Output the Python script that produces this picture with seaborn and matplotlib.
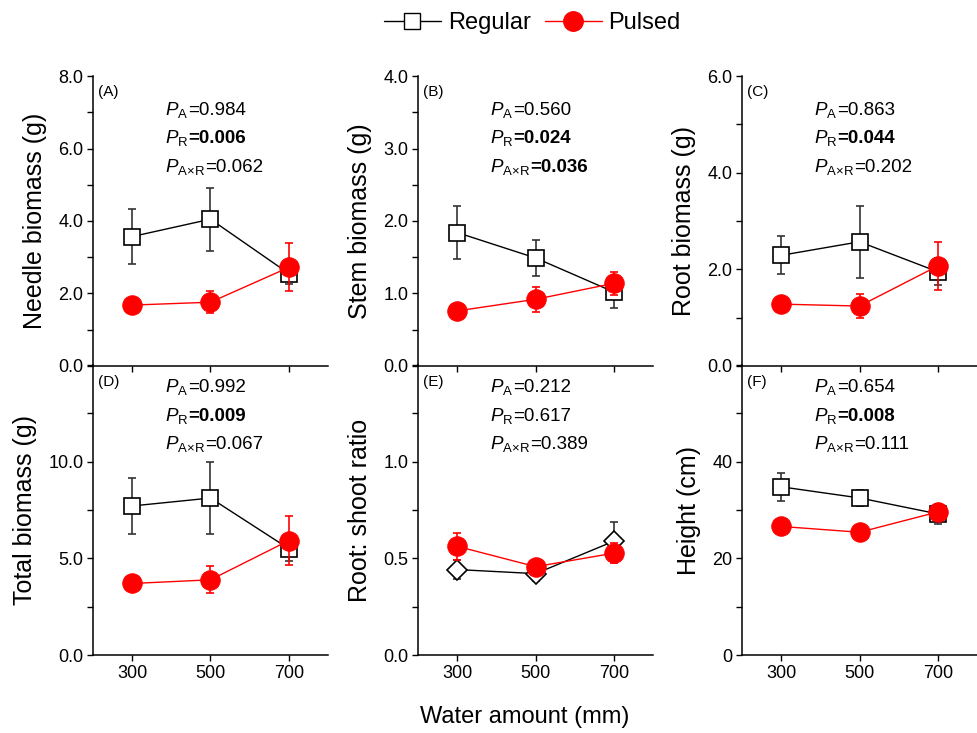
import matplotlib
matplotlib.use("Agg")
import matplotlib.pyplot as plt
from matplotlib.lines import Line2D
from matplotlib.ticker import MultipleLocator, FormatStrFormatter
from matplotlib.offsetbox import TextArea, HPacker, AnnotationBbox
import seaborn as sns

# Data (mean +/- SE)
water = [300, 500, 700]

needle_reg = [3.57, 4.05, 2.55]
needle_reg_se = [0.77, 0.87, 0.30]
needle_pul = [1.68, 1.76, 2.72]
needle_pul_se = [0.05, 0.31, 0.66]

stem_reg = [1.84, 1.49, 1.02]
stem_reg_se = [0.37, 0.25, 0.22]
stem_pul = [0.76, 0.92, 1.14]
stem_pul_se = [0.03, 0.17, 0.16]

root_reg = [2.29, 2.57, 1.95]
root_reg_se = [0.39, 0.74, 0.28]
root_pul = [1.28, 1.24, 2.07]
root_pul_se = [0.05, 0.25, 0.49]

total_reg = [7.71, 8.12, 5.50]
total_reg_se = [1.47, 1.85, 0.63]
total_pul = [3.70, 3.89, 5.92]
total_pul_se = [0.10, 0.70, 1.28]

ratio_reg = [0.442, 0.421, 0.589]
ratio_reg_se = [0.05, 0.04, 0.10]
ratio_pul = [0.562, 0.457, 0.527]
ratio_pul_se = [0.07, 0.02, 0.05]

height_reg = [34.8, 32.5, 29.2]
height_reg_se = [2.9, 1.7, 2.0]
height_pul = [26.6, 25.4, 29.6]
height_pul_se = [0.5, 0.5, 1.7]

ylabels = ["Needle biomass (g)", "Stem biomass (g)", "Root biomass (g)",
           "Total biomass (g)", "Root: shoot ratio", "Height (cm)"]
panel_tags = ["(A)", "(B)", "(C)", "(D)", "(E)", "(F)"]
# P values for A, R and AxR; 1 = printed in bold (significant)
pvals = [("0.984", "0.006", "0.062"), ("0.560", "0.024", "0.036"),
         ("0.863", "0.044", "0.202"), ("0.992", "0.009", "0.067"),
         ("0.212", "0.617", "0.389"), ("0.654", "0.008", "0.111")]
signif = [(0, 1, 0), (0, 1, 1), (0, 1, 0), (0, 1, 0), (0, 0, 0), (0, 1, 0)]

sns.set_style("ticks")
plt.rcParams['font.family'] = ['Liberation Sans', 'DejaVu Sans']
plt.rcParams['mathtext.fontset'] = 'custom'
plt.rcParams['mathtext.rm'] = 'Liberation Sans'
plt.rcParams['mathtext.it'] = 'Liberation Sans:italic'
plt.rcParams['mathtext.bf'] = 'Liberation Sans:bold'
plt.rcParams['text.color'] = 'black'
plt.rcParams['axes.labelcolor'] = 'black'

fig = plt.figure(figsize=(9.77, 7.33), dpi=100)

lefts = [0.0952, 0.428, 0.7595]
bottoms = [0.5007, 0.1064]
w, h = 0.2405, 0.3956

series = [(needle_reg, needle_reg_se, needle_pul, needle_pul_se),
          (stem_reg, stem_reg_se, stem_pul, stem_pul_se),
          (root_reg, root_reg_se, root_pul, root_pul_se),
          (total_reg, total_reg_se, total_pul, total_pul_se),
          (ratio_reg, ratio_reg_se, ratio_pul, ratio_pul_se),
          (height_reg, height_reg_se, height_pul, height_pul_se)]
ylims = [8, 4, 6, 15, 1.5, 60]
majors = [2, 1, 2, 5, 0.5, 20]
fmts = ["%.1f", "%.1f", "%.1f", "%.1f", "%.1f", "%d"]

for i in range(6):
    row, col = divmod(i, 3)
    ax = fig.add_axes([lefts[col], bottoms[row], w, h])
    ax.patch.set_alpha(0)
    reg, reg_se, pul, pul_se = series[i]
    reg_marker = "D" if i == 4 else "s"
    reg_ms = 10 if i == 4 else 11

    ax.errorbar(water, reg, yerr=reg_se, fmt="none", ecolor="#333333",
                elinewidth=1.2, capsize=3, capthick=1.2, zorder=1)
    sns.lineplot(x=water, y=reg, ax=ax, color="black", lw=1,
                 marker=reg_marker, markersize=reg_ms, markerfacecolor="white",
                 markeredgecolor="black", markeredgewidth=1.2, zorder=2)
    ax.errorbar(water, pul, yerr=pul_se, fmt="none", ecolor="red",
                elinewidth=1.2, capsize=3, capthick=1.2, zorder=3)
    sns.lineplot(x=water, y=pul, ax=ax, color="red", lw=1,
                 marker="o", markersize=14, markerfacecolor="red",
                 markeredgecolor="red", zorder=4)

    ax.set_xlim(200, 800)
    ax.set_xticks(water)
    ax.yaxis.set_major_locator(MultipleLocator(majors[i]))
    ax.yaxis.set_minor_locator(MultipleLocator(majors[i] / 2))
    ax.yaxis.set_major_formatter(FormatStrFormatter(fmts[i]))
    if row == 1:
        ax.set_yticks([majors[i] * k for k in range(3)])
        ax.set_xticklabels([str(x) for x in water])
    else:
        ax.set_xticklabels([])
    ax.set_ylim(0, ylims[i])
    ax.tick_params(axis="both", which="major", direction="out", length=4,
                   width=1, labelsize=13, colors="black", pad=3)
    ax.tick_params(axis="y", which="minor", direction="out", length=4, width=1,
                   colors="black")
    for s in ["top", "right"]:
        ax.spines[s].set_visible(False)
    for s in ["left", "bottom"]:
        ax.spines[s].set_linewidth(1.1)
        ax.spines[s].set_color("black")
    ax.set_xlabel("")
    ax.set_ylabel(ylabels[i], fontsize=18, labelpad=8)

    ax.text(0.02, 0.945 if row == 0 else 0.94, panel_tags[i],
            transform=ax.transAxes, fontsize=11, va="center")
    subs = ["A", "R", r"A\!\times\!R"]
    ys = [0.883, 0.786, 0.686] if row == 0 else [0.924, 0.823, 0.727]
    for k in range(3):
        weight = "bold" if signif[i][k] else "normal"
        name = TextArea(r"$P_{\mathrm{%s}}$" % subs[k],
                        textprops=dict(fontsize=13.5))
        value = TextArea("=" + pvals[i][k],
                         textprops=dict(fontsize=13.5, fontweight=weight))
        pack = HPacker(children=[name, value], align="baseline", pad=0, sep=0)
        ab = AnnotationBbox(pack, (0.305, ys[k]), xycoords=ax.transAxes,
                            box_alignment=(0, 0.5), frameon=False, pad=0)
        ax.add_artist(ab)

handles = [Line2D([], [], color="black", lw=1, marker="s", markersize=11,
                  markerfacecolor="white", markeredgecolor="black"),
           Line2D([], [], color="red", lw=1, marker="o", markersize=14,
                  markerfacecolor="red", markeredgecolor="red")]
fig.legend(handles, ["Regular", "Pulsed"], loc="center", ncol=2,
           bbox_to_anchor=(0.545, 0.968), frameon=False, fontsize=17,
           handlelength=2.4, columnspacing=0.6, handletextpad=0.3)
fig.text(0.537, 0.022, "Water amount (mm)", ha="center", va="center",
         fontsize=17)

plt.savefig("out.png", dpi=100)
